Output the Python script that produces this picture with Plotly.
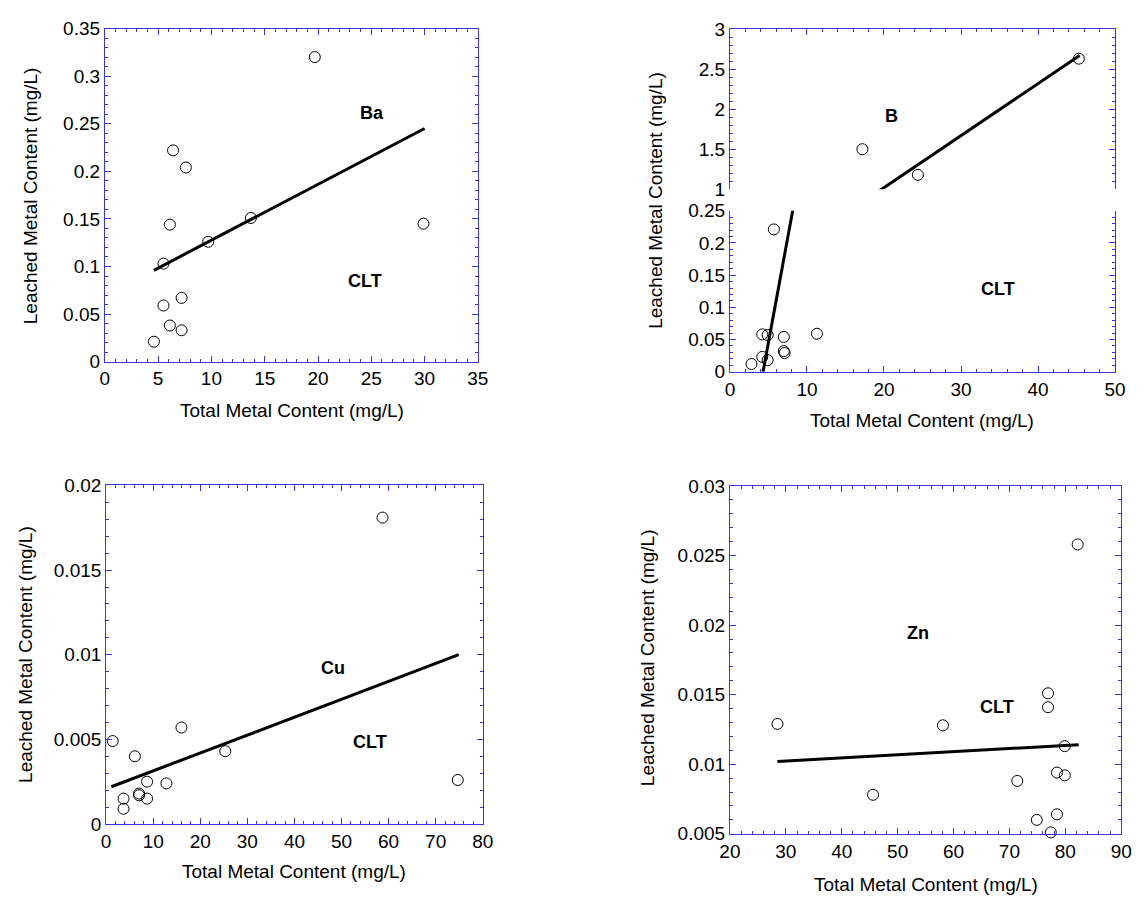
import plotly.graph_objects as go

# ---- Ba ----
ba_total = [4.6, 5.5, 6.1, 7.2, 7.2, 5.5, 6.1, 6.4, 7.6, 9.7, 13.7, 19.7, 29.9]
ba_leached = [0.021, 0.059, 0.038, 0.033, 0.067, 0.103, 0.144, 0.222, 0.204, 0.126, 0.151, 0.320, 0.145]
ba_fit_x = [4.6, 30.0]
ba_fit_y = [0.096, 0.245]

# ---- B (broken y axis) ----
b_total = [2.8, 4.2, 4.9, 4.2, 4.9, 5.7, 7.0, 7.0, 7.1, 11.3, 17.2, 24.4, 45.3]
b_leached = [0.012, 0.058, 0.057, 0.023, 0.018, 0.221, 0.054, 0.032, 0.029, 0.059, 1.50, 1.18, 2.63]
b_fit_x = [4.3, 45.4]
b_fit_y = [0.0, 2.67]

# ---- Cu ----
cu_total = [1.4, 3.7, 3.7, 6.1, 7.0, 7.0, 8.7, 8.7, 12.8, 16.0, 25.3, 58.7, 74.7]
cu_leached = [0.0049, 0.0015, 0.0009, 0.0040, 0.0018, 0.0017, 0.0025, 0.0015, 0.0024, 0.0057, 0.0043, 0.0181, 0.0026]
cu_fit_x = [1.1, 74.9]
cu_fit_y = [0.0022, 0.0100]

# ---- Zn ----
zn_total = [28.5, 45.6, 58.1, 71.4, 74.9, 77.4, 78.5, 76.9, 76.9, 78.5, 79.9, 79.9, 82.2]
zn_leached = [0.0129, 0.0078, 0.0128, 0.0088, 0.0060, 0.0051, 0.0064, 0.0151, 0.0141, 0.0094, 0.0092, 0.0113, 0.0258]
zn_fit_x = [28.5, 82.4]
zn_fit_y = [0.0102, 0.0114]

x_title = "Total Metal Content (mg/L)"
y_title = "Leached Metal Content (mg/L)"

W, H = 1145, 907
FONT = "Arial, Liberation Sans, sans-serif"
AX = "#3434E4"
FS = 19


def px(x):
    return x / W


def py(y):
    return 1 - y / H


fig = go.Figure()

marker = dict(symbol="circle-open", size=11, color="black", line=dict(width=1))
fitline = dict(color="black", width=3)


def add(xs, ys, fx, fy, xa, ya):
    fig.add_trace(go.Scatter(x=fx, y=fy, mode="lines", line=fitline,
                             xaxis=xa, yaxis=ya, showlegend=False, hoverinfo="skip"))
    fig.add_trace(go.Scatter(x=xs, y=ys, mode="markers", marker=marker, cliponaxis=False,
                             xaxis=xa, yaxis=ya, showlegend=False))


add(ba_total, ba_leached, ba_fit_x, ba_fit_y, "x", "y")
# B: upper and lower panels share the same data and fit line
b_hi = [(x, y) for x, y in zip(b_total, b_leached) if y >= 1]
b_lo = [(x, y) for x, y in zip(b_total, b_leached) if y < 1]
add([p[0] for p in b_hi], [p[1] for p in b_hi], b_fit_x, b_fit_y, "x2", "y2")
add([p[0] for p in b_lo], [p[1] for p in b_lo], b_fit_x, b_fit_y, "x3", "y3")
add(cu_total, cu_leached, cu_fit_x, cu_fit_y, "x4", "y4")
add(zn_total, zn_leached, zn_fit_x, zn_fit_y, "x5", "y5")


def axis(rng, dtick, mdtick, domain, anchor, mirror="allticks", showticklabels=True,
         side=None, showline=True):
    d = dict(range=rng, dtick=dtick, tick0=rng[0], domain=domain, anchor=anchor,
             showgrid=False, zeroline=False, showline=showline, linecolor=AX, linewidth=1,
             mirror=mirror, ticks="inside", ticklen=6, tickcolor=AX, tickwidth=1,
             showticklabels=showticklabels,
             tickfont=dict(family=FONT, size=FS, color="black"),
             minor=dict(dtick=mdtick, tick0=rng[0], ticks="inside", ticklen=3,
                        tickcolor=AX, tickwidth=1, showgrid=False))
    if side:
        d["side"] = side
    return d


# subplot boxes (pixels)
ba_box = (95.7, 476, 19, 360)
b_hi_box = (733, 1125.7, 19.5, 183.5)
b_lo_box = (733, 1125.7, 205.5, 370.3)
cu_box = (97, 481, 486.7, 833.3)
zn_box = (733, 1132, 487.3, 843.3)


def xd(b):
    return [px(b[0]), px(b[1])]


def yd(b):
    return [py(b[3]), py(b[2])]


fig.update_layout(
    width=W, height=H, autosize=False,
    margin=dict(l=0, r=0, t=0, b=0),
    paper_bgcolor="white", plot_bgcolor="white",
    font=dict(family=FONT, size=FS, color="black"),
    xaxis=axis([0, 35], 5, 1, xd(ba_box), "y"),
    yaxis=axis([0, 0.35], 0.05, 0.01, yd(ba_box), "x"),
    xaxis2=axis([0, 50], 10, 2, xd(b_hi_box), "y2", mirror=False, showticklabels=False, side="top"),
    yaxis2=axis([1, 3], 0.5, 0.1, yd(b_hi_box), "x2"),
    xaxis3=axis([0, 50], 10, 2, xd(b_lo_box), "y3", mirror=False),
    yaxis3=axis([0, 0.25], 0.05, 0.01, yd(b_lo_box), "x3"),
    xaxis4=axis([0, 80], 10, 2, xd(cu_box), "y4"),
    yaxis4=axis([0, 0.02], 0.005, 0.001, yd(cu_box), "x4"),
    xaxis5=axis([20, 90], 10, 2, xd(zn_box), "y5"),
    yaxis5=axis([0.005, 0.03], 0.005, 0.001, yd(zn_box), "x5"),
)

ann = []


def label(text, x, y, xr, yr):
    ann.append(dict(text=f"<b>{text}</b>", x=x, y=y, xref=xr, yref=yr, showarrow=False,
                    font=dict(family=FONT, size=18, color="black")))


label("Ba", 25.1, 0.261, "x", "y")
label("CLT", 24.4, 0.0845, "x", "y")
label("B", 21.0, 1.92, "x2", "y2")
label("CLT", 34.85, 0.128, "x3", "y3")
label("Cu", 48.2, 0.00923, "x4", "y4")
label("CLT", 56.0, 0.00485, "x4", "y4")
label("Zn", 53.6, 0.0194, "x5", "y5")
label("CLT", 67.85, 0.0141, "x5", "y5")


def title(text, x, y, angle=0):
    ann.append(dict(text=text, x=px(x), y=py(y), xref="paper", yref="paper", showarrow=False,
                    textangle=angle, xanchor="center", yanchor="middle",
                    font=dict(family=FONT, size=FS, color="black")))


title(x_title, 286, 410)
title(x_title, 929, 420)
title(x_title, 289, 882)
title(x_title, 933, 895)
title(y_title, 20, 190, -90)
title(y_title, 657, 195, -90)
title(y_title, 15.5, 660, -90)
title(y_title, 649, 663, -90)

fig.update_layout(annotations=ann)

fig.write_html("out.html")
